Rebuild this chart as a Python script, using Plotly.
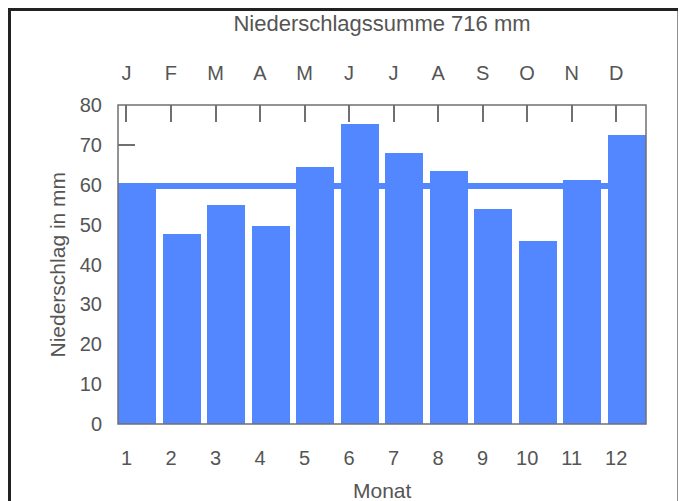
import plotly.graph_objects as go

months = list(range(1, 13))
month_letters = ["J", "F", "M", "A", "M", "J", "J", "A", "S", "O", "N", "D"]
precip = [59.5, 47.6, 54.9, 49.7, 64.4, 75.2, 68.0, 63.4, 53.9, 45.8, 61.1, 72.6]
total = 716
mean_val = total / 12
y_ticks = [0, 10, 20, 30, 40, 50, 60, 70, 80]

BAR = "#5387ff"
TXT = "#555555"
AX = "#707070"
FONT = "Liberation Sans, Arial, sans-serif"

# page body adds an 8px offset; figure is sized to fit the window
W, H = 678, 493
L, T, PW, PH = 110, 97, 528, 319

fig = go.Figure()
fig.add_trace(go.Bar(
    x=months, y=precip, marker=dict(color=BAR, line=dict(width=0)),
    offset=-0.19, width=0.86, hoverinfo="x+y", showlegend=False,
))
# invisible trace to anchor the top month axis
fig.add_trace(go.Scatter(
    x=months, y=precip, xaxis="x2", mode="markers",
    marker=dict(opacity=0), hoverinfo="skip", showlegend=False,
))

fig.update_layout(
    width=W, height=H,
    margin=dict(l=L, r=W - L - PW, t=T, b=H - T - PH),
    paper_bgcolor="white", plot_bgcolor="white",
    font=dict(family=FONT, size=20, color=TXT),
    bargap=0,
    title=dict(text="Niederschlagssumme " + str(total) + " mm",
               x=0.5, xref="paper", xanchor="center",
               y=1 - 15 / H, yref="container", yanchor="middle",
               font=dict(size=22, color=TXT, family=FONT)),
    xaxis=dict(range=[0.81, 12.67], tickvals=months, ticktext=[str(m) for m in months],
               ticks="", showline=False, showgrid=False, zeroline=False,
               ticklabelstandoff=20, layer="below traces"),
    xaxis2=dict(overlaying="x", side="top", range=[0.81, 12.67], tickvals=months,
                ticktext=month_letters, ticks="inside", ticklen=17, tickwidth=1.5,
                tickcolor=AX, showline=False, showgrid=False, zeroline=False,
                ticklabelstandoff=20, layer="below traces"),
    yaxis=dict(range=[0, 80], tickvals=y_ticks, ticks="inside", ticklen=17,
               tickwidth=1.5, tickcolor=AX, showline=False, showgrid=False,
               zeroline=False, ticklabelstandoff=15, layer="below traces"),
    shapes=[
        dict(type="line", xref="x domain", yref="y", x0=0, x1=1,
             y0=mean_val, y1=mean_val, line=dict(color=BAR, width=6), layer="above"),
        dict(type="rect", xref="x domain", yref="y domain", x0=0, x1=1, y0=0, y1=1,
             line=dict(color=AX, width=1.5), layer="above"),
        dict(type="rect", xref="paper", yref="paper",
             x0=(1.5 - L) / PW, x1=(671 - L) / PW,
             y0=(T + PH - (H + 20)) / PH, y1=1 + (T - 1.5) / PH,
             line=dict(color="#222222", width=3), layer="above"),
    ],
    annotations=[
        dict(text="Monat", xref="paper", yref="paper", x=0.5, y=0,
             xanchor="center", yanchor="middle", yshift=-(490 - 424),
             showarrow=False, font=dict(size=21, color=TXT, family=FONT)),
        dict(text="Niederschlag in mm", xref="paper", yref="paper", x=0, y=0.5,
             xanchor="center", yanchor="middle", xshift=-(118 - 57), textangle=-90,
             showarrow=False, font=dict(size=21, color=TXT, family=FONT)),
    ],
)

fig.write_html("out.html")
